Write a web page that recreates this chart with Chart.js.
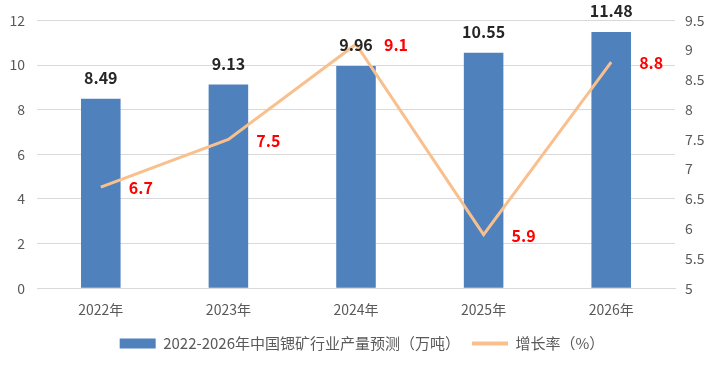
<!DOCTYPE html>
<html><head><meta charset="utf-8">
<script src="https://cdn.jsdelivr.net/npm/chart.js@4/dist/chart.umd.min.js"></script>
<style>html,body{margin:0;padding:0;background:#fff}#w{width:724px;height:383px}</style>
</head><body><div id="w"><canvas id="c"></canvas></div>
<script>
const categories = ["2022年","2023年","2024年","2025年","2026年"];
const output = [8.49, 9.13, 9.96, 10.55, 11.48];
const growth = [6.7, 7.5, 9.1, 5.9, 8.8];
const barName = "2022-2026年中国锶矿行业产量预测（万吨）";
const lineName = "增长率（%）";
const FONT = "'Noto Sans CJK SC','Noto Sans',sans-serif";

const labelPlugin = {
  id: 'labels',
  afterDatasetsDraw(chart) {
    const ctx = chart.ctx;
    ctx.save();
    ctx.font = "bold 16px " + FONT;
    ctx.textAlign = 'center';
    ctx.textBaseline = 'bottom';
    const m0 = chart.getDatasetMeta(0);
    m0.data.forEach((el, i) => {
      ctx.fillStyle = '#262626';
      ctx.fillText(output[i].toFixed(2), el.x, el.y - 13);
    });
    const m1 = chart.getDatasetMeta(1);
    ctx.textBaseline = 'middle';
    m1.data.forEach((el, i) => {
      ctx.fillStyle = '#FF0000';
      ctx.fillText(growth[i].toFixed(1), el.x + 40, el.y + 1);
    });
    ctx.restore();
  }
};

new Chart(document.getElementById('c'), {
  data: {
    labels: categories,
    datasets: [
      { type: 'bar', label: barName, data: output, yAxisID: 'y',
        backgroundColor: '#4F81BD', borderColor: '#4A7EBB', borderWidth: 0,
        barPercentage: 0.62, categoryPercentage: 0.5, order: 2 },
      { type: 'line', label: lineName, data: growth, yAxisID: 'y1',
        borderColor: '#F9C08E', backgroundColor: '#F9C08E', borderWidth: 3,
        pointRadius: 0, tension: 0, order: 1 }
    ]
  },
  options: {
    responsive: true, maintainAspectRatio: false, animation: false,
    layout: { padding: { top: 14, left: 0, right: 0, bottom: 22 } },
    plugins: {
      legend: { position: 'bottom',
        labels: { font: { family: FONT, size: 15 }, color: '#595959', boxHeight: 10,
          usePointStyle: true, pointStyleWidth: 36, padding: 12,
          generateLabels(chart) {
            return [
              { text: barName, fillStyle: '#4F81BD', strokeStyle: '#4F81BD', lineWidth: 0, pointStyle: 'rect', datasetIndex: 0, fontColor: '#595959' },
              { text: lineName, fillStyle: '#F9C08E', strokeStyle: '#F9C08E', lineWidth: 4, pointStyle: 'line', datasetIndex: 1, fontColor: '#595959' }
            ];
          } } },
      tooltip: { enabled: false }
    },
    scales: {
      x: { grid: { display: false }, border: { color: '#D9D9D9' },
        ticks: { font: { family: FONT, size: 14 }, color: '#595959', padding: 5.5 } },
      y: { position: 'left', min: 0, max: 12,
        ticks: { stepSize: 2, font: { family: FONT, size: 14 }, color: '#595959', padding: 12 },
        grid: { color: '#D9D9D9', drawTicks: false }, border: { display: false },
        afterFit(s) { s.width = 37; } },
      y1: { position: 'right', min: 5, max: 9.5,
        ticks: { stepSize: 0.5, font: { family: FONT, size: 14 }, color: '#595959', padding: 10,
          callback: v => String(Number(v.toFixed(1))) },
        grid: { drawOnChartArea: false, drawTicks: false }, border: { display: false },
        afterFit(s) { s.width = 49; } }
    }
  },
  plugins: [labelPlugin]
});
</script></body></html>
